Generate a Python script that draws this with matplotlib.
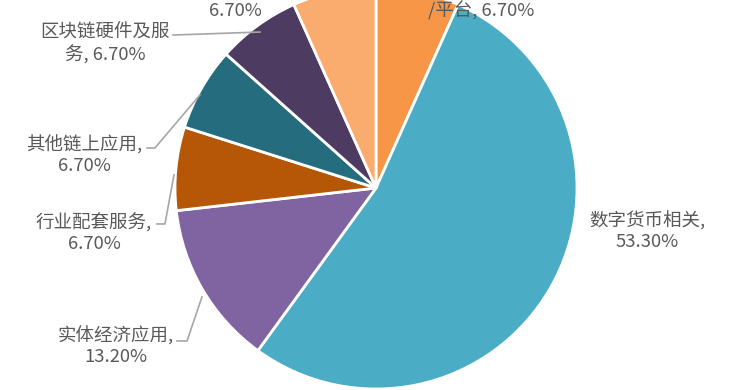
import matplotlib.pyplot as plt

plt.rcParams['font.family'] = ['Noto Sans CJK SC', 'DejaVu Sans']

# data (clockwise from 12 o'clock)
labels = ['底层技术\n/平台', '数字货币相关', '实体经济应用', '行业配套服务',
          '其他链上应用', '区块链硬件及服\n务', '区块链安全']
values = [6.7, 53.3, 13.2, 6.7, 6.7, 6.7, 6.7]
colors = ['#F79646', '#4BACC6', '#8064A2', '#B65708',
          '#256C7E', '#4E3B62', '#F9AC6D']

# label block centres (units of pie radius) and line breaks
label_pos = [(0.522, 0.935), (1.348, -0.214), (-1.294, -0.786), (-1.403, -0.224),
             (-1.453, 0.164), (-1.348, 0.716), (-0.701, 0.935)]
label_sep = [', ', ',\n', ',\n', ',\n', ',\n', ', ', ',\n']

# leader lines
leaders = {
    2: [(-0.990, -0.761), (-0.940, -0.761), (-0.866, -0.542)],
    3: [(-1.090, -0.179), (-1.050, -0.179), (-1.005, 0.065)],
    4: [(-1.139, 0.199), (-1.100, 0.199), (-0.876, 0.463)],
    5: [(-1.010, 0.761), (-0.577, 0.776)],
}

fig = plt.figure(figsize=(7.5, 3.9), dpi=100)
ax = fig.add_axes([0, 0, 1, 1])

ax.pie(values, colors=colors, startangle=90, counterclock=False, radius=1,
       wedgeprops=dict(edgecolor='white', linewidth=2))

for i, (lab, v) in enumerate(zip(labels, values)):
    x, y = label_pos[i]
    ax.text(x, y, f'{lab}{label_sep[i]}{v:.2f}%', ha='center', va='center',
            multialignment='center', fontsize=13.3, color='#595959',
            linespacing=1.2, zorder=5)

for i, pts in leaders.items():
    xs = [p[0] for p in pts]
    ys = [p[1] for p in pts]
    ax.plot(xs, ys, color='#A6A6A6', lw=1.2, zorder=4)

ax.set_aspect('auto')
ax.set_xlim(-376 / 201, 374 / 201)
ax.set_ylim(-202 / 201, 188 / 201)
ax.axis('off')

fig.savefig('out.png', dpi=100)
